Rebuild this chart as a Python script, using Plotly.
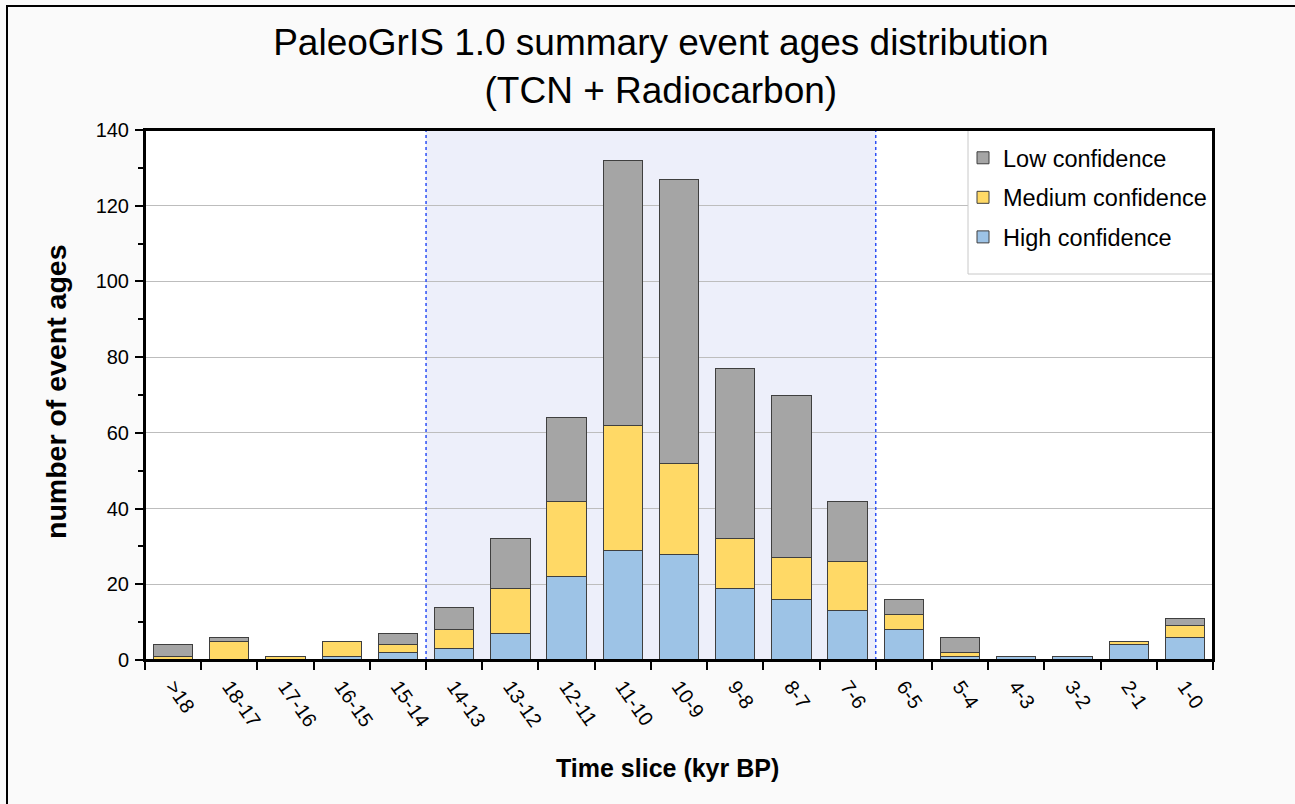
import plotly.graph_objects as go

categories = [">18", "18-17", "17-16", "16-15", "15-14", "14-13", "13-12", "12-11",
              "11-10", "10-9", "9-8", "8-7", "7-6", "6-5", "5-4", "4-3", "3-2", "2-1", "1-0"]
high = [0, 0, 0, 1, 2, 3, 7, 22, 29, 28, 19, 16, 13, 8, 1, 1, 1, 4, 6]
medium = [1, 5, 1, 4, 2, 5, 12, 20, 33, 24, 13, 11, 13, 4, 1, 0, 0, 1, 3]
low = [3, 1, 0, 0, 3, 6, 13, 22, 70, 75, 45, 43, 16, 4, 4, 0, 0, 0, 2]

font = "Liberation Sans, Arial, sans-serif"
outline = dict(color="#3f3f3f", width=1)

fig = go.Figure()
fig.add_trace(go.Bar(x=categories, y=high, name="High confidence", legendgroup="h", legendrank=3,
                     marker=dict(color="#9DC3E6", line=outline), width=0.7))
fig.add_trace(go.Bar(x=categories, y=medium, name="Medium confidence", legendgroup="m", legendrank=2,
                     marker=dict(color="#FFD966", line=outline), width=0.7))
fig.add_trace(go.Bar(x=categories, y=low, name="Low confidence", legendgroup="l", legendrank=1,
                     marker=dict(color="#A5A5A5", line=outline), width=0.7))

L, T, W, H = 145, 130, 1068, 530


def px_x(p):
    return (p - L) / W


def px_y(p):
    return (T + H - p) / H


shapes = [
    dict(type="rect", xref="x", yref="paper", x0=4.5, x1=12.5, y0=0, y1=1,
         fillcolor="#EDEFFA", line=dict(width=0), layer="below"),
    dict(type="line", xref="x", yref="paper", x0=4.5, x1=4.5, y0=0, y1=1,
         line=dict(color="#2E50F5", width=1.5, dash="3px,3px"), layer="above"),
    dict(type="line", xref="x", yref="paper", x0=12.5, x1=12.5, y0=0, y1=1,
         line=dict(color="#2E50F5", width=1.5, dash="3px,3px"), layer="above"),
    # legend box
    dict(type="rect", xref="paper", yref="paper", x0=px_x(968), x1=1, y0=px_y(274), y1=1,
         fillcolor="white", line=dict(color="#C8C8C8", width=1), layer="above"),
    # outer figure frame (left and top edges)
    dict(type="line", xref="paper", yref="paper", x0=px_x(7), x1=px_x(7), y0=px_y(810), y1=px_y(5),
         line=dict(color="black", width=2), layer="above"),
    dict(type="line", xref="paper", yref="paper", x0=px_x(7), x1=px_x(1300), y0=px_y(6), y1=px_y(6),
         line=dict(color="black", width=2), layer="above"),
    # re-draw plot frame over legend box
    dict(type="rect", xref="paper", yref="paper", x0=0, x1=1, y0=0, y1=1,
         line=dict(color="black", width=2), fillcolor="rgba(0,0,0,0)", layer="above"),
]

annotations = [
    dict(text="<b>Time slice (kyr BP)</b>", xref="paper", yref="paper",
         x=px_x(667), y=px_y(768), xanchor="center", yanchor="middle",
         showarrow=False, font=dict(size=25, family=font)),
    dict(text="<b>number of event ages</b>", xref="paper", yref="paper",
         x=px_x(56), y=px_y(392), xanchor="center", yanchor="middle", textangle=-90,
         showarrow=False, font=dict(size=28.5, family=font)),
]

fig.update_layout(
    barmode="stack",
    width=1295, height=804,
    margin=dict(l=L, r=1295 - L - W, t=T, b=804 - T - H),
    paper_bgcolor="#FAFAFA",
    plot_bgcolor="white",
    font=dict(family=font, color="black"),
    title=dict(text="PaleoGrIS 1.0 summary event ages distribution<br>(TCN + Radiocarbon)",
               x=0.483, xref="paper", xanchor="center",
               yref="container", y=1 - 55 / 804, yanchor="middle",
               font=dict(size=37, family=font)),
    shapes=shapes,
    annotations=annotations,
    bargap=0.3,
    legend=dict(x=px_x(963), xanchor="left", y=px_y(136), yanchor="top",
                traceorder="grouped", tracegroupgap=6,
                bgcolor="rgba(0,0,0,0)", borderwidth=0,
                font=dict(size=23.5, family=font), itemwidth=30),
    xaxis=dict(
        type="category",
        tickangle=55, tickfont=dict(size=20), ticklabelstandoff=5,
        showline=True, linecolor="black", linewidth=2, mirror=True,
        ticks="outside", ticklen=8, tickwidth=2, tickcolor="black",
        tickson="boundaries", showgrid=False,
    ),
    yaxis=dict(
        range=[0, 140], dtick=20, tickfont=dict(size=20), ticklabelstandoff=2,
        showline=True, linecolor="black", linewidth=2, mirror=True,
        ticks="outside", ticklen=8, tickwidth=2, tickcolor="black",
        minor=dict(ticks="outside", dtick=10, ticklen=5, tickwidth=2, tickcolor="black", showgrid=False),
        showgrid=True, gridcolor="#BDBDBD", gridwidth=1, zeroline=False,
    ),
)

fig.write_html("out.html", config={"displayModeBar": False},
               post_script="document.body.style.margin='0';document.body.style.overflow='hidden';")
